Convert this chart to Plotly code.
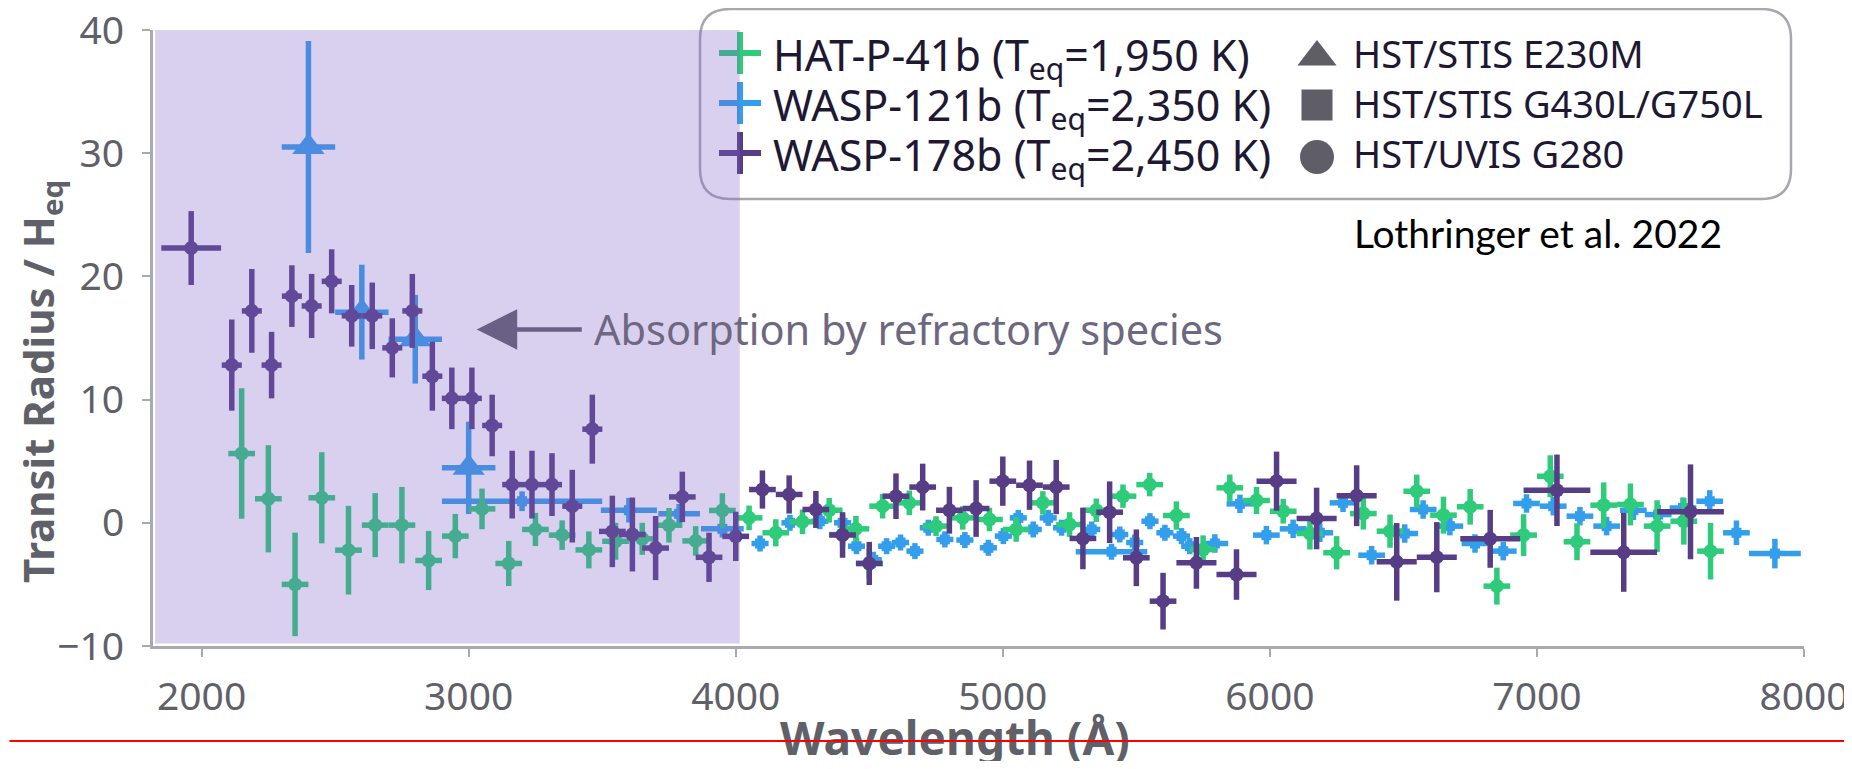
import plotly.graph_objects as go

# ---------------- data ----------------
# WASP-178b  (HST/UVIS G280, circles)
w178_wl = [1961, 2113, 2188, 2262, 2338, 2412, 2487, 2562, 2639, 2714,
           2789, 2864, 2937, 3012, 3088, 3163, 3237, 3312, 3388, 3463,
           3538, 3613, 3700, 3800, 3900, 4000,
           4100, 4200, 4300, 4400, 4500, 4600, 4700, 4800, 4900, 5000,
           5100, 5200, 5300, 5400, 5500, 5600,
           5725, 5875, 6025, 6175, 6325, 6475, 6625,
           6825, 7075, 7325, 7575]
w178_val = [22.3, 12.8, 17.2, 12.8, 18.4, 17.6, 19.6, 16.8, 16.8, 14.2,
            17.2, 11.9, 10.1, 10.1, 7.9, 3.1, 3.1, 3.1, 1.35, 7.6,
            -0.7, -0.95, -2.05, 2.1, -2.8, -1.1,
            2.7, 2.3, 1.08, -0.99, -3.3, 2.16, 2.9, 1.02, 1.16, 3.38,
            3.05, 2.9, -1.27, 0.86, -2.84, -6.36,
            -3.25, -4.2, 3.38, 0.35, 2.2, -3.17, -2.79,
            -1.3, 2.64, -2.4, 0.89]
w178_err = [3.0, 3.7, 3.4, 2.7, 2.5, 2.6, 2.6, 2.5, 2.7, 2.4,
            3.0, 2.8, 2.5, 2.5, 2.5, 2.75, 2.75, 2.55, 2.95, 2.8,
            2.9, 3.0, 2.6, 2.05, 2.0, 2.0,
            1.55, 1.55, 1.5, 1.85, 1.75, 1.85, 1.9, 1.9, 2.3, 2.0,
            2.0, 2.2, 2.5, 2.5, 2.3, 2.3,
            2.1, 2.05, 2.4, 2.5, 2.47, 3.15, 2.85,
            2.35, 2.9, 3.2, 3.85]
w178_xerr = ([112] + [37.5] * 19 + [50] * 6 + [50] * 16 + [75] * 7
             + [112, 125, 125, 125])

# HAT-P-41b  (HST/UVIS G280, circles)
hat_wl = [2150, 2250, 2350, 2450, 2550, 2650, 2750, 2850, 2950, 3050,
          3150, 3250, 3350, 3450, 3550, 3650, 3750, 3850, 3950, 4050,
          4150, 4250, 4350, 4400, 4450, 4500, 4550, 4650, 4750, 4850,
          4950, 5050, 5150, 5250, 5350, 5450, 5550, 5650, 5750, 5850,
          5950, 6050, 6150, 6250, 6350, 6450, 6550, 6650, 6750, 6850,
          6950, 7050, 7150, 7250, 7350, 7450, 7550, 7650]
hat_val = [5.62, 1.95, -5.0, 2.03, -2.22, -0.19, -0.19, -3.06, -1.08, 1.13,
           -3.3, -0.54, -1.0, -2.2, -1.5, -1.3, -0.2, -1.47, 1.0, 0.4,
           -0.81, 0.08, 1.02, -0.95, -0.49, -3.3, 1.35, 1.62, -0.27, 0.4,
           0.27, -0.54, 1.62, -0.14, 1.02, 2.16, 3.1, 0.59, -2.17, 2.84,
           1.81, 0.94, -0.87, -2.43, 0.75, -0.68, 2.56, 0.62, 1.3, -5.14,
           -1.0, 3.78, -1.54, 1.43, 1.49, -0.27, 0.13, -2.3]
hat_err = [5.3, 4.35, 4.2, 3.7, 3.6, 2.6, 3.1, 2.4, 1.8, 1.65,
           1.83, 1.35, 1.2, 1.5, 1.5, 1.3, 1.4, 1.2, 1.4, 1.0,
           1.1, 1.0, 1.0, 1.0, 1.05, 1.2, 1.0, 1.0, 0.8, 0.95,
           0.95, 1.0, 0.95, 1.0, 0.95, 0.95, 0.95, 1.15, 1.15, 1.08,
           1.1, 1.0, 1.3, 1.35, 1.3, 1.35, 1.35, 1.5, 1.45, 1.5,
           1.7, 1.7, 1.5, 1.85, 1.7, 2.1, 1.9, 2.3]
hat_xerr = [50] * len(hat_wl)

# WASP-121b  HST/STIS E230M (triangles)
w121_e_wl = [2400, 2600, 2800, 3000]
w121_e_val = [30.5, 17.1, 14.9, 4.46]
w121_e_err = [8.6, 3.85, 3.6, 3.75]
w121_e_xerr = [100, 100, 100, 100]

# WASP-121b  HST/STIS G430L/G750L (squares)
w121_g_wl = [3200, 3600, 3788, 3950, 4091, 4203, 4315, 4400, 4452, 4515,
             4565, 4617, 4671, 4721, 4783, 4858, 4946, 5002, 5058, 5114,
             5170, 5220, 5333, 5407, 5438, 5494, 5551, 5607, 5669, 5700,
             5794, 5888, 5987, 6087, 6187, 6274, 6381, 6505, 6574, 6674,
             6768, 6874, 6961, 7061, 7161, 7261, 7361, 7454, 7547, 7647,
             7747, 7891]
w121_g_val = [1.75, 1.02, 0.73, -0.49, -1.68, 0.0, 0.13, 0.0, -1.9, -3.0,
              -1.9, -1.6, -2.3, -0.4, -1.35, -1.4, -2.03, -1.08, 0.4, -0.54,
              0.4, -0.4, -0.54, -2.35, -0.95, -1.6, 0.13, -0.81, -1.08, -1.9,
              -1.68, 1.54, -1.0, -0.49, -0.81, 1.62, -2.63, -0.87, 1.08, -0.27,
              -1.68, -2.3, 1.57, 1.35, 0.54, -0.27, 1.02, 0.67, 1.2, 1.75,
              -0.81, -2.5]
w121_g_err = ([0.8, 1.0, 0.8, 0.7] + [0.65] * 26 + [0.75] * 16
              + [0.8, 0.8, 0.85, 0.9, 1.0, 1.2])
w121_g_xerr = ([300, 105, 78, 80] + [32] * 19 + [134] + [32] * 6
               + [50] * 21 + [97])

x_ticks = [2000, 3000, 4000, 5000, 6000, 7000, 8000]
y_ticks = [-10, 0, 10, 20, 30, 40]
x_range = [1818, 8000]
y_range = [-10, 40]
shade_range = [1826, 4015]

leg_planets = ["HAT-P-41b (T<sub>eq</sub>=1,950 K)",
               "WASP-121b (T<sub>eq</sub>=2,350 K)",
               "WASP-178b (T<sub>eq</sub>=2,450 K)"]
leg_instr = ["HST/STIS E230M", "HST/STIS G430L/G750L", "HST/UVIS G280"]
leg_symbols = ["triangle-up", "square", "circle"]

# ---------------- style ----------------
C_HAT = "#2ecc7a"
C_121 = "#339eeb"
C_178 = "#573d86"
AX_GRAY = "#a9a9b0"
TXT_GRAY = "#606068"
FONT = "Noto Sans"

# the page body has an 8px margin: build the figure so that it fits the
# 1852x769 window; all target positions below are window pixels.
OFF = 8
SW, SH = 1852, 769                 # window size
W, H = SW - OFF, SH - 2 * OFF      # figure size
PX0, PX1, PY0, PY1 = 153, 1804, 30, 646   # plot area in window pixels
L, R = PX0 - OFF, W - (PX1 - OFF)
T, B = PY0 - OFF, H - (PY1 - OFF)
PW, PH = W - L - R, H - T - B


def px_x(X):
    return (X - PX0) / PW


def px_y(Y):
    return (PY1 - Y) / PH


fig = go.Figure()


def err_series(x, y, ey, ex, color, symbol, size, thick=5.5, lw=0):
    fig.add_trace(go.Scatter(
        x=x, y=y, mode="markers", showlegend=False, cliponaxis=False,
        marker=dict(symbol=symbol, size=size, color=color,
                    line=dict(width=lw, color=color)),
        error_y=dict(type="data", array=ey, color=color, thickness=thick, width=0),
        error_x=dict(type="data", array=ex, color=color, thickness=thick, width=0),
    ))


err_series(w121_g_wl, w121_g_val, w121_g_err, w121_g_xerr, C_121, "square", 10)
err_series(w121_e_wl, w121_e_val, w121_e_err, w121_e_xerr, C_121, "triangle-up", 28)
err_series(hat_wl, hat_val, hat_err, hat_xerr, C_HAT, "circle", 14)
err_series(w178_wl, w178_val, w178_err, w178_xerr, C_178, "circle", 14)

# ---------------- legend (drawn manually, pixel overlay axes) ----------------
leg_colors = [C_HAT, C_121, C_178]
row_y = [53, 103, 153]
fig.add_trace(go.Scatter(
    x=[740] * 3, y=row_y, xaxis="x2", yaxis="y2", mode="markers",
    showlegend=False, cliponaxis=False, hoverinfo="skip",
    marker=dict(symbol="cross-thin", size=30, color=leg_colors,
                line=dict(width=6, color=leg_colors))))
gray_y = [57, 105, 157]
gray_size = [34, 31, 34]
for s, yy, sz in zip(leg_symbols, gray_y, gray_size):
    fig.add_trace(go.Scatter(
        x=[1317], y=[yy], xaxis="x2", yaxis="y2", mode="markers",
        showlegend=False, cliponaxis=False, hoverinfo="skip",
        marker=dict(symbol=s, size=sz, color="#5f5d66")))

annotations = []
for i, (p, ins) in enumerate(zip(leg_planets, leg_instr)):
    annotations.append(dict(text=p, x=px_x(771), y=px_y(row_y[i] + 4), xref="paper", yref="paper",
                            xanchor="left", yanchor="middle", showarrow=False,
                            font=dict(family=FONT, size=43, color="#1e1833")))
    annotations.append(dict(text=ins, x=px_x(1351), y=px_y(row_y[i]), xref="paper", yref="paper",
                            xanchor="left", yanchor="middle", showarrow=False,
                            font=dict(family=FONT, size=38, color="#1e1833")))

annotations.append(dict(text="Lothringer et al. 2022", x=px_x(1352), y=px_y(233),
                        xref="paper", yref="paper", xanchor="left", yanchor="middle",
                        showarrow=False, font=dict(family="Lato", size=39, color="#000000")))

# arrow + label
annotations.append(dict(text="", x=3030, y=15.7, ax=3429, ay=15.7, xref="x", yref="y",
                        axref="x", ayref="y", showarrow=True, arrowhead=2,
                        arrowsize=1.8, arrowwidth=4.5, arrowcolor="#6a5f85", standoff=0))
annotations.append(dict(text="Absorption by refractory species", x=3462, y=15.7,
                        xref="x", yref="y", xanchor="left", yanchor="middle",
                        showarrow=False, font=dict(family=FONT, size=41.5, color="#6d6880")))

# axis titles
annotations.append(dict(text="<b>Wavelength (Å)</b>", x=px_x(955), y=px_y(737),
                        xref="paper", yref="paper", xanchor="center", yanchor="middle",
                        showarrow=False, font=dict(family=FONT, size=46, color=TXT_GRAY)))
annotations.append(dict(text="<b>Transit Radius / H<sub>eq</sub></b>", x=px_x(40), y=px_y(382),
                        xref="paper", yref="paper", xanchor="center", yanchor="middle",
                        textangle=-90, showarrow=False,
                        font=dict(family=FONT, size=42, color=TXT_GRAY)))

# red horizontal line across the picture
annotations.append(dict(text="", x=px_x(SW + 5), y=px_y(741), xref="paper", yref="paper",
                        ax=-(SW + 20), ay=0, showarrow=True, arrowhead=0,
                        arrowwidth=2, arrowcolor="#ff0000", standoff=0, startstandoff=0))

# legend rounded box
X0, Y0, X1, Y1, r = 700, 9, 1791, 199, 30


def P(X, Y):
    return f"{px_x(X):.5f},{px_y(Y):.5f}"


box_path = (f"M{P(X0 + r, Y0)} L{P(X1 - r, Y0)} Q{P(X1, Y0)} {P(X1, Y0 + r)} "
            f"L{P(X1, Y1 - r)} Q{P(X1, Y1)} {P(X1 - r, Y1)} L{P(X0 + r, Y1)} "
            f"Q{P(X0, Y1)} {P(X0, Y1 - r)} L{P(X0, Y0 + r)} Q{P(X0, Y0)} {P(X0 + r, Y0)} Z")

shapes = [
    dict(type="path", path=box_path, xref="paper", yref="paper",
         line=dict(color="#a8a6b0", width=2.5), fillcolor="rgba(0,0,0,0)", layer="above"),
    dict(type="rect", xref="x", yref="y", x0=shade_range[0], x1=shade_range[1],
         y0=-9.8, y1=40, fillcolor="rgba(127,98,198,0.3)", line=dict(width=0), layer="above"),
]

fig.update_layout(
    width=W, height=H,
    margin=dict(l=L, r=R, t=T, b=B, pad=0, autoexpand=False),
    paper_bgcolor="white", plot_bgcolor="rgba(0,0,0,0)",
    showlegend=False,
    xaxis=dict(range=x_range, tickvals=x_ticks, showgrid=False, zeroline=False,
               showline=True, linecolor=AX_GRAY, linewidth=3, ticks="outside",
               ticklen=8, tickwidth=2, tickcolor=AX_GRAY, ticklabelstandoff=6,
               automargin=False, ticklabeloverflow="allow",
               tickfont=dict(family=FONT, size=39, color=TXT_GRAY)),
    yaxis=dict(range=y_range, tickvals=y_ticks, showgrid=False, zeroline=False,
               showline=True, linecolor=AX_GRAY, linewidth=3, ticks="outside",
               ticklen=8, tickwidth=2, tickcolor=AX_GRAY, ticklabelstandoff=10,
               automargin=False, ticklabeloverflow="allow",
               tickfont=dict(family=FONT, size=39, color=TXT_GRAY)),
    xaxis2=dict(range=[PX0, PX1], overlaying="x", visible=False, anchor="y2", automargin=False),
    yaxis2=dict(range=[PY1, PY0], overlaying="y", visible=False, anchor="x2", automargin=False),
    shapes=shapes,
    annotations=annotations,
)

fig.write_html("out.html")
